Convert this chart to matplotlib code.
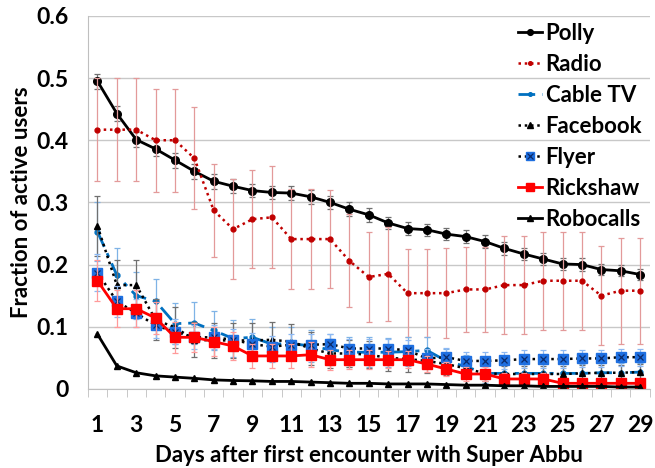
import numpy as np
import matplotlib.pyplot as plt
from matplotlib.legend_handler import HandlerTuple

plt.rcParams['font.family'] = ['Lato', 'DejaVu Sans']
plt.rcParams['font.weight'] = 'bold'

days = list(range(1, 30))

polly = [0.495, 0.443, 0.401, 0.386, 0.368, 0.350, 0.334, 0.326, 0.319, 0.316,
         0.315, 0.309, 0.300, 0.289, 0.280, 0.267, 0.258, 0.256, 0.249, 0.245,
         0.237, 0.226, 0.217, 0.209, 0.201, 0.200, 0.192, 0.190, 0.184]
polly_err = [0.012, 0.012, 0.012, 0.012, 0.012, 0.012, 0.012, 0.011, 0.011, 0.011,
             0.011, 0.011, 0.011, 0.011, 0.011, 0.010, 0.010, 0.010, 0.010, 0.010,
             0.010, 0.010, 0.010, 0.010, 0.010, 0.010, 0.009, 0.009, 0.009]

radio = [0.417, 0.417, 0.417, 0.400, 0.400, 0.371, 0.287, 0.257, 0.273, 0.276,
         0.241, 0.241, 0.241, 0.206, 0.180, 0.185, 0.154, 0.154, 0.154, 0.160,
         0.160, 0.167, 0.167, 0.174, 0.174, 0.174, 0.150, 0.158, 0.158]
radio_err = [0.083, 0.083, 0.083, 0.083, 0.083, 0.082, 0.075, 0.081, 0.079, 0.082,
             0.080, 0.080, 0.079, 0.075, 0.073, 0.075, 0.071, 0.071, 0.072, 0.068,
             0.068, 0.079, 0.079, 0.079, 0.079, 0.079, 0.080, 0.085, 0.085]

cable = [0.253, 0.183, 0.150, 0.141, 0.105, 0.106, 0.094, 0.081, 0.083, 0.072,
         0.073, 0.069, 0.063, 0.059, 0.059, 0.059, 0.060, 0.062, 0.045, 0.036,
         0.025, 0.025, 0.025, 0.025, 0.025, 0.025, 0.026, 0.026, 0.027]
cable_err = [0.047, 0.043, 0.038, 0.035, 0.033, 0.033, 0.031, 0.030, 0.030, 0.028,
             0.027, 0.026, 0.025, 0.024, 0.024, 0.023, 0.023, 0.022, 0.020, 0.018,
             0.015, 0.015, 0.015, 0.015, 0.015, 0.015, 0.015, 0.015, 0.015]

facebook = [0.262, 0.167, 0.167, 0.111, 0.099, 0.079, 0.078, 0.078, 0.078, 0.079,
            0.076, 0.065, 0.057, 0.057, 0.055, 0.050, 0.048, 0.045, 0.040, 0.033,
            0.025, 0.024, 0.024, 0.024, 0.024, 0.025, 0.026, 0.026, 0.027]
facebook_err = [0.048, 0.040, 0.040, 0.033, 0.033, 0.028, 0.028, 0.028, 0.028, 0.028,
                0.028, 0.026, 0.024, 0.022, 0.022, 0.021, 0.020, 0.019, 0.018, 0.016,
                0.013, 0.013, 0.013, 0.013, 0.013, 0.013, 0.013, 0.013, 0.013]

flyer = [0.187, 0.141, 0.122, 0.102, 0.092, 0.083, 0.083, 0.079, 0.072, 0.068,
         0.071, 0.071, 0.072, 0.065, 0.065, 0.065, 0.062, 0.049, 0.051, 0.045,
         0.045, 0.046, 0.048, 0.048, 0.048, 0.049, 0.049, 0.051, 0.051]
flyer_err = [0.030, 0.025, 0.023, 0.020, 0.020, 0.019, 0.019, 0.018, 0.018, 0.017,
             0.017, 0.017, 0.017, 0.016, 0.016, 0.016, 0.016, 0.015, 0.015, 0.014,
             0.014, 0.014, 0.014, 0.014, 0.014, 0.014, 0.014, 0.014, 0.014]

rickshaw = [0.174, 0.129, 0.129, 0.114, 0.083, 0.083, 0.076, 0.069, 0.053, 0.053,
            0.053, 0.055, 0.047, 0.047, 0.047, 0.047, 0.047, 0.040, 0.032, 0.024,
            0.024, 0.016, 0.016, 0.016, 0.009, 0.009, 0.009, 0.009, 0.009]
rickshaw_err = [0.033, 0.030, 0.030, 0.025, 0.025, 0.023, 0.023, 0.022, 0.020, 0.020,
                0.020, 0.020, 0.016, 0.015, 0.015, 0.014, 0.014, 0.013, 0.012, 0.011,
                0.011, 0.009, 0.009, 0.009, 0.007, 0.007, 0.007, 0.007, 0.007]

robocalls = [0.088, 0.037, 0.026, 0.021, 0.019, 0.017, 0.0145, 0.0135, 0.013, 0.012,
             0.012, 0.011, 0.010, 0.009, 0.009, 0.008, 0.008, 0.008, 0.007, 0.006,
             0.006, 0.005, 0.005, 0.004, 0.004, 0.004, 0.004, 0.003, 0.003]

fig = plt.figure(figsize=(6.55, 4.68), dpi=100)
ax = fig.add_axes([0.134, 0.169, 0.858, 0.797])

ek = dict(fmt='none', capsize=2.5, elinewidth=0.9, capthick=0.9)

ax.errorbar(days, polly, yerr=polly_err, ecolor='#707070', **ek)
h_polly, = ax.plot(days, polly, color='black', lw=2, marker='o', ms=5.5)

ax.errorbar(days, radio, yerr=radio_err, ecolor='#E39A9A', **ek)
h_radio, = ax.plot(days, radio, color='#C00000', lw=1.8, ls=(0, (1, 1.5)), marker='o', ms=3.5)

ax.errorbar(days, cable, yerr=cable_err, ecolor='#7FB3E6', **ek)
h_cable, = ax.plot(days, cable, color='#0070C0', lw=2, ls=(0, (6, 2.5, 1.5, 2.5)), marker='o', ms=3.5)

ax.errorbar(days, facebook, yerr=facebook_err, ecolor='#707070', **ek)
h_fb, = ax.plot(days, facebook, color='black', lw=1.8, ls=(0, (1, 1.5)), marker='^', ms=5)

ax.errorbar(days, flyer, yerr=flyer_err, ecolor='#8DB8F2', **ek)
h_flyer, = ax.plot(days, flyer, color='black', lw=1.8, ls=(0, (1, 1.5)), marker='s', ms=7,
                   mfc='#1E6FE0', mec='#1E6FE0')
h_flyx, = ax.plot(days, flyer, ls='none', marker='x', ms=5, mew=0.9, color='#0A2A6A')

ax.errorbar(days, rickshaw, yerr=rickshaw_err, ecolor='#FF9A9A', **ek)
h_rick, = ax.plot(days, rickshaw, color='#FF0000', lw=2, marker='s', ms=7)

h_robo, = ax.plot(days, robocalls, color='black', lw=2, marker='^', ms=5)

ax.set_xlim(0.5, 29.5)
ax.set_ylim(0, 0.6)
ax.set_yticks(np.arange(0, 0.61, 0.1))
ax.set_yticklabels(['0', '0.1', '0.2', '0.3', '0.4', '0.5', '0.6'])
ax.set_xticks(days[::2])
ax.set_xticks(np.arange(0.5, 30, 1), minor=True)
ax.tick_params(axis='x', which='major', length=0, pad=19, labelsize=16.5)
ax.tick_params(axis='x', which='minor', length=6, color='#BFBFBF', direction='out')
ax.tick_params(axis='y', length=0, pad=14, labelsize=16.5)
ax.grid(axis='y', color='#C8C8C8', lw=1)
ax.set_axisbelow(True)
for s in ['top', 'right']:
    ax.spines[s].set_visible(False)
for s in ['left', 'bottom']:
    ax.spines[s].set_color('#BFBFBF')

ax.set_xlabel('Days after first encounter with Super Abbu', fontsize=16, fontweight='bold', labelpad=6)
ax.set_ylabel('Fraction of active users', fontsize=16, fontweight='bold', labelpad=3)

ax.legend([h_polly, h_radio, h_cable, h_fb, (h_flyer, h_flyx), h_rick, h_robo],
          ['Polly', 'Radio', 'Cable TV', 'Facebook', 'Flyer', 'Rickshaw', 'Robocalls'],
          handler_map={tuple: HandlerTuple(ndivide=1)},
          loc='upper right', bbox_to_anchor=(1.01, 1.018), frameon=False,
          fontsize=16, handlelength=1.1, handletextpad=0.15, labelspacing=0.45,
          markerscale=0.75, borderaxespad=0.2)

fig.savefig('out.png', dpi=100)
